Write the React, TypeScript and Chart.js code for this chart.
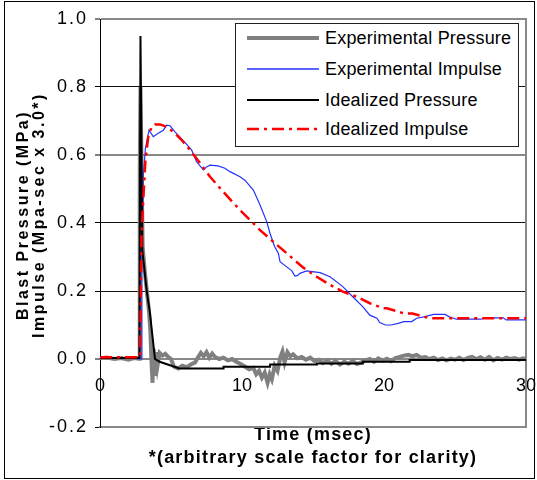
import React, { useEffect, useRef } from "react";
import { Chart, registerables } from "chart.js";

Chart.register(...registerables);

// ---------- data ----------
const xTickValues = [0, 10, 20, 30];
const yTickValues = [-0.2, 0.0, 0.2, 0.4, 0.6, 0.8, 1.0];

const seriesLabels = [
  "Experimental Pressure",
  "Experimental Impulse",
  "Idealized Pressure",
  "Idealized Impulse",
];

const expPressureT = [
  0, 0.5, 1.0, 1.5, 2.0, 2.4, 2.75, 2.8, 2.85, 2.95, 3.0, 3.15, 3.3, 3.45, 3.55, 3.62, 3.7, 3.78, 3.85,
  3.95, 4.05, 4.2, 4.4, 4.6, 4.8, 5.0, 5.2, 5.5, 5.8, 6.1, 6.4, 6.7, 6.9, 7.1, 7.3, 7.5, 7.7, 7.9,
  8.1, 8.4, 8.7, 9.0, 9.3, 9.6, 9.9, 10.2, 10.5, 10.8, 11.0, 11.2, 11.4, 11.6, 11.8, 11.95, 12.1,
  12.3, 12.5, 12.7, 12.85, 13.0, 13.2, 13.4, 13.6, 13.9, 14.2, 14.5, 14.8, 15.1, 15.4, 15.7, 16.0,
  16.3, 16.6, 16.9, 17.2, 17.5, 17.8, 18.1, 18.4, 18.7, 19.0, 19.3, 19.6, 19.9, 20.2, 20.5, 20.8,
  21.1, 21.4, 21.7, 22.0, 22.3, 22.6, 22.9, 23.2, 23.5, 23.8, 24.1, 24.4, 24.7, 25.0, 25.3, 25.6,
  25.9, 26.2, 26.5, 26.8, 27.1, 27.4, 27.7, 28.0, 28.3, 28.6, 28.9, 29.2, 29.5, 29.8, 30,
];
const expPressureV = [
  0.002, 0.004, 0.0, 0.003, -0.002, 0.003, 0.001, 0.55, 0.8, 0.5, 0.33, 0.26, 0.2, 0.14, 0.08, 0.0,
  -0.07, 0.03, -0.05, 0.02, -0.02, 0.018, 0.01, 0.015, 0.006, 0.0, -0.022, -0.028, -0.02, -0.024,
  -0.016, -0.01, 0.005, 0.018, 0.008, 0.02, 0.004, 0.016, 0.006, 0.0, 0.004, -0.004, 0.0, -0.008,
  -0.015, -0.022, -0.03, -0.026, -0.045, -0.035, -0.055, -0.04, -0.07, -0.045, -0.06, -0.02, -0.035,
  0.005, 0.022, -0.01, 0.02, 0.008, 0.014, 0.002, 0.006, -0.002, 0.004, -0.006, -0.002, -0.012,
  -0.004, -0.014, -0.006, -0.016, -0.008, -0.014, -0.006, -0.015, -0.01, -0.004, 0.0, -0.008, 0.002,
  -0.005, 0.001, -0.006, 0.003, 0.006, 0.01, 0.012, 0.008, 0.012, 0.004, 0.006, 0.0, 0.004, -0.003,
  0.002, -0.004, 0.001, -0.002, 0.004, -0.003, 0.003, 0.006, 0.0, 0.005, -0.002, 0.006, -0.004,
  0.003, -0.002, 0.004, 0.0, 0.003, -0.002, 0.002, 0.001,
];

const expImpulseT = [
  0, 1.5, 2.9, 2.95, 3.05, 3.2, 3.45, 3.75, 4.1, 4.46, 4.7, 4.93, 5.28, 5.8, 6.45, 6.8, 7.28, 7.5,
  7.75, 8.3, 8.8, 9.15, 9.86, 10.2, 10.8, 11.27, 11.74, 11.97, 12.3, 12.56, 12.68, 13.15, 13.5, 13.73,
  13.9, 14.08, 14.55, 15.5, 16.2, 17.1, 17.8, 18.5, 19.0, 19.5, 19.7, 20.1, 20.5, 21.0, 21.4, 21.95,
  22.3, 22.8, 23.5, 24.3, 24.6, 25.1, 26.8, 27.2, 28.4, 28.6, 30,
];
const expImpulseV = [
  0.002, 0.004, 0.0, 0.3, 0.54, 0.62, 0.673, 0.654, 0.664, 0.673, 0.688, 0.686, 0.668, 0.645, 0.615,
  0.58, 0.556, 0.565, 0.57, 0.568, 0.561, 0.551, 0.536, 0.526, 0.497, 0.453, 0.404, 0.37, 0.33, 0.311,
  0.286, 0.271, 0.26, 0.244, 0.245, 0.252, 0.259, 0.254, 0.242, 0.213, 0.183, 0.154, 0.129, 0.12,
  0.107, 0.1, 0.1, 0.105, 0.11, 0.11, 0.12, 0.124, 0.131, 0.131, 0.124, 0.117, 0.117, 0.121, 0.121,
  0.115, 0.115,
];

const idealPressureT = [
  0, 2.78, 2.85, 2.98, 3.29, 3.52, 3.87, 4.2, 5.6, 8.69, 8.7, 11.97, 11.98, 15.26, 15.27, 18.5, 18.51,
  21.8, 21.81, 30,
];
const idealPressureV = [
  0.003, 0.003, 0.95, 0.32, 0.2, 0.134, 0.0, -0.008, -0.028, -0.028, -0.023, -0.023, -0.016, -0.016,
  -0.013, -0.013, -0.008, -0.008, -0.003, -0.003,
];

const idealImpulseT = [
  0, 2.82, 2.88, 2.93, 3.05, 3.2, 3.4, 3.64, 3.87, 4.23, 4.7, 5.28, 5.75, 6.34, 6.8, 7.4, 7.75, 8.57,
  9.15, 9.86, 10.56, 11.27, 12.2, 13.15, 14.3, 15.26, 16.2, 17.1, 18.1, 19.0, 19.95, 20.2, 20.8, 21.4,
  22.0, 22.65, 23.2, 30,
];
const idealImpulseV = [
  0.005, 0.005, 0.21, 0.37, 0.47, 0.585, 0.654, 0.683, 0.69, 0.69, 0.683, 0.664, 0.644, 0.615, 0.59,
  0.556, 0.536, 0.497, 0.47, 0.438, 0.409, 0.379, 0.345, 0.311, 0.269, 0.242, 0.218, 0.198, 0.183,
  0.164, 0.149, 0.149, 0.142, 0.134, 0.134, 0.126, 0.12, 0.12,
];

const FONT = "'Liberation Sans', Arial, Helvetica, sans-serif";

const pts = (t: number[], v: number[]) => t.map((x, i) => ({ x, y: v[i] }));

function spaced(scale: any, method: string, spacing: string, shiftY = 0) {
  const flag = "__sp_" + method;
  if (scale[flag]) return;
  const orig = scale[method];
  scale[method] = function (...args: any[]) {
    const ctx = this.ctx;
    ctx.save();
    ctx.letterSpacing = spacing;
    if (shiftY) ctx.translate(0, shiftY);
    orig.apply(this, args);
    ctx.restore();
  };
  scale[flag] = true;
}

const near = (a: number, b: number) => Math.abs(a - b) < 1e-6;

const legendStyles = [
  { color: "#808080", width: 4, dash: "" },
  { color: "#2233ff", width: 1.5, dash: "" },
  { color: "#000000", width: 2, dash: "" },
  { color: "#ff0000", width: 2.5, dash: "12 5 3 5" },
];

export default function App() {
  const canvasRef = useRef<HTMLCanvasElement | null>(null);

  useEffect(() => {
    const canvas = canvasRef.current;
    if (!canvas) return;
    const chart = new Chart(canvas, {
      type: "line",
      data: {
        datasets: [
          {
            label: seriesLabels[0],
            data: pts(expPressureT, expPressureV),
            borderColor: "#808080",
            borderWidth: 4,
            pointRadius: 0,
            tension: 0,
            order: 3,
          },
          {
            label: seriesLabels[1],
            data: pts(expImpulseT, expImpulseV),
            borderColor: "#2233ff",
            borderWidth: 1.2,
            pointRadius: 0,
            tension: 0,
            order: 2,
          },
          {
            label: seriesLabels[2],
            data: pts(idealPressureT, idealPressureV),
            borderColor: "#000000",
            borderWidth: 2,
            pointRadius: 0,
            tension: 0,
            order: 1,
          },
          {
            label: seriesLabels[3],
            data: pts(idealImpulseT, idealImpulseV),
            borderColor: "#ff0000",
            borderWidth: 2.5,
            borderDash: [12, 5, 3, 5],
            pointRadius: 0,
            tension: 0,
            order: 0,
          },
        ],
      },
      options: {
        responsive: false,
        animation: false,
        events: [],
        layout: { padding: { left: 0, right: 11, top: 19, bottom: 0 } },
        plugins: {
          legend: { display: false },
          tooltip: { enabled: false },
          title: { display: false },
        },
        scales: {
          x: {
            type: "linear",
            position: { y: 0 } as any,
            min: 0,
            max: 30,
            afterBuildTicks: (scale: any) => {
              scale.ticks = xTickValues.map((value) => ({ value }));
            },
            ticks: {
              color: "#000",
              font: { family: FONT, size: 18 },
              padding: 16,
              maxRotation: 0,
              autoSkip: false,
            },
            grid: { display: false, drawTicks: false },
            border: { display: false },
            afterFit: (scale: any) => {
              scale.paddingLeft = 0;
              scale.paddingRight = 0;
            },
          },
          x2: {
            type: "linear",
            position: "bottom",
            min: 0,
            max: 30,
            ticks: { display: false },
            grid: { display: false, drawTicks: false },
            border: { display: true, color: "#888888", width: 2 },
            title: {
              display: true,
              text: ["Time (msec)", "*(arbitrary scale factor for clarity)"],
              color: "#000",
              font: { family: FONT, size: 18, weight: "bold", lineHeight: 1.28 },
              padding: { top: 0, bottom: 10.4 },
            },
            afterFit: (scale: any) => {
              scale.height = 53;
              scale.paddingLeft = 0;
              scale.paddingRight = 0;
              spaced(scale, "drawTitle", "1.2px");
            },
          },
          y: {
            type: "linear",
            position: "left",
            min: -0.2,
            max: 1.0,
            afterBuildTicks: (scale: any) => {
              scale.ticks = yTickValues.map((value) => ({ value }));
            },
            ticks: {
              color: "#000",
              font: { family: FONT, size: 18 },
              padding: 7,
              callback: (v: any) => Number(v).toFixed(1),
            },
            grid: {
              color: (ctx: any) => {
                const v = ctx.tick ? ctx.tick.value : 0;
                if (near(v, -0.2)) return "rgba(0,0,0,0)";
                if (near(v, 0) || near(v, 0.6) || near(v, 1.0)) return "#888888";
                return "#111111";
              },
              lineWidth: (ctx: any) => {
                const v = ctx.tick ? ctx.tick.value : 0;
                if (near(v, 0) || near(v, 0.6) || near(v, 1.0)) return 2;
                return 1;
              },
              tickColor: "#000",
              tickWidth: 1,
              tickLength: 5,
              drawTicks: true,
            },
            border: { display: true, color: "#000", width: 1 },
            title: {
              display: true,
              text: ["Blast Pressure (MPa)", "Impulse (Mpa-sec x 3.0*)"],
              color: "#000",
              font: { family: FONT, size: 16, weight: "bold", lineHeight: 1.0 },
              padding: { top: 16, bottom: 0 },
            },
            afterFit: (scale: any) => {
              scale.width = 100;
              spaced(scale, "drawTitle", "2.5px", -8);
              spaced(scale, "drawLabels", "2px");
            },
          },
          y2: {
            type: "linear",
            position: "right",
            min: -0.2,
            max: 1.0,
            ticks: { display: false },
            grid: { display: false, drawTicks: false },
            border: { display: true, color: "#888888", width: 2 },
            afterFit: (scale: any) => {
              scale.width = 0;
            },
          },
        },
      },
    } as any);
    return () => chart.destroy();
  }, []);

  const rowCenters = [37, 68, 99, 128];

  return (
    <div style={{ position: "absolute", left: 0, top: 0, width: 537, height: 480, background: "#fff" }}>
      <canvas ref={canvasRef} width={537} height={480} style={{ display: "block", width: 537, height: 480 }} />
      <div
        style={{
          position: "absolute",
          left: 4,
          top: 1,
          width: 531,
          height: 478,
          border: "1px solid #000",
          boxSizing: "border-box",
          pointerEvents: "none",
        }}
      />
      <div
        style={{
          position: "absolute",
          left: 235,
          top: 23,
          width: 284,
          height: 124,
          border: "1px solid #222",
          boxSizing: "border-box",
          background: "#fff",
        }}
      >
        {seriesLabels.map((label, i) => (
          <div
            key={label}
            style={{
              position: "absolute",
              left: 0,
              top: rowCenters[i] - 23 - 11,
              height: 22,
              display: "flex",
              alignItems: "center",
              whiteSpace: "nowrap",
            }}
          >
            <svg width={72} height={10} style={{ marginLeft: 11, marginRight: 6, display: "block" }}>
              <line
                x1={0}
                y1={5}
                x2={72}
                y2={5}
                stroke={legendStyles[i].color}
                strokeWidth={legendStyles[i].width}
                strokeDasharray={legendStyles[i].dash || undefined}
              />
            </svg>
            <span style={{ fontFamily: FONT, fontSize: 18, color: "#000", letterSpacing: "0.2px" }}>{label}</span>
          </div>
        ))}
      </div>
    </div>
  );
}
